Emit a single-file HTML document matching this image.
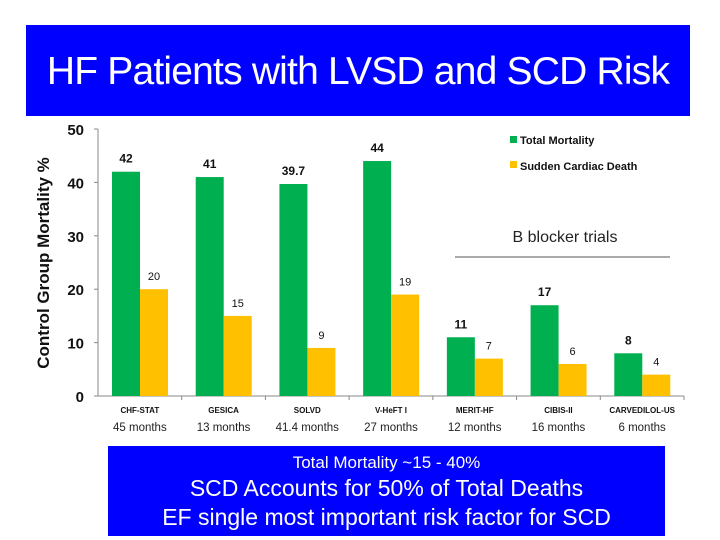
<!DOCTYPE html>
<html><head><meta charset="utf-8"><style>
body{margin:0;width:720px;height:540px;background:#fff;overflow:hidden;font-family:"Liberation Sans",sans-serif}
#title{position:absolute;left:26px;top:25px;width:664px;height:91px;background:#0000ff;color:#fff;font-size:39px;text-align:center;line-height:93px;letter-spacing:-0.8px}
#foot{position:absolute;left:108px;top:446px;width:557px;height:90px;background:#0000ff;color:#fff;text-align:center}
</style></head><body>
<div id="title">HF Patients with LVSD and SCD Risk</div>
<svg id="chart" width="720" height="540" style="position:absolute;left:0;top:0"></svg>
<div id="foot">
<div style="font-size:17px;margin-top:7px">Total Mortality ~15 - 40%</div>
<div style="font-size:23px;margin-top:2px">SCD Accounts for 50% of Total Deaths</div>
<div style="font-size:23px;margin-top:2px">EF single most important risk factor for SCD</div>
</div>
<script>
const categories=["CHF-STAT","GESICA","SOLVD","V-HeFT I","MERIT-HF","CIBIS-II","CARVEDILOL-US"];
const durations=["45 months","13 months","41.4 months","27 months","12 months","16 months","6 months"];
const totalMortality=[42,41,39.7,44,11,17,8];
const suddenDeath=[20,15,9,19,7,6,4];
const yTicks=[0,10,20,30,40,50];
const NS="http://www.w3.org/2000/svg";
const svg=document.getElementById('chart');
const x0=98,x1=684,yBase=396,yTop=129,yMax=50;
const cw=(x1-x0)/categories.length;
const y=v=>yBase-(v/yMax)*(yBase-yTop);
function mk(t,a,txt){const e=document.createElementNS(NS,t);for(const k in a)e.setAttribute(k,a[k]);if(txt!=null)e.textContent=txt;svg.appendChild(e);return e;}
let e=mk('line',{x1:x0,y1:yTop,x2:x0,y2:yBase,stroke:'#888'});


e=mk('line',{x1:x0,y1:yBase,x2:x1,y2:yBase,stroke:'#888'});


yTicks.forEach(t=>{
  mk('line',{x1:x0-4,y1:y(t),x2:x0,y2:y(t),stroke:'#888'});
  e=mk('text',{x:x0-14,y:y(t)+6,'text-anchor':'end','font-size':15,'font-weight':'bold',fill:'#111'},t);
  
  
});
e=mk('text',{x:49,y:263,'text-anchor':'middle','font-size':17,'font-weight':'bold',fill:'#111',transform:'rotate(-90 49 263)'},'Control Group Mortality %');


categories.forEach((c,i)=>{
  const cx=x0+i*cw;
  mk('line',{x1:cx+cw,y1:yBase,x2:cx+cw,y2:yBase+4,stroke:'#888'});
  const gx=cx+14,bw=28;
  e=mk('rect',{x:gx,y:y(totalMortality[i]),width:bw,height:yBase-y(totalMortality[i]),fill:'#00b050'});
  
  
  e=mk('rect',{x:gx+bw,y:y(suddenDeath[i]),width:bw,height:yBase-y(suddenDeath[i]),fill:'#ffc000'});
  
  
  e=mk('text',{x:gx+bw/2,y:y(totalMortality[i])-9,'text-anchor':'middle','font-size':12,'font-weight':'bold',fill:'#111'},totalMortality[i]);
  
  
  e=mk('text',{x:gx+bw*1.5,y:y(suddenDeath[i])-9,'text-anchor':'middle','font-size':11,fill:'#111'},suddenDeath[i]);
  
  
  e=mk('text',{x:cx+cw/2,y:413,'text-anchor':'middle','font-size':8,'font-weight':'bold',fill:'#111'},c);
  
  
  e=mk('text',{x:cx+cw/2,y:431,'text-anchor':'middle','font-size':11.5,fill:'#222'},durations[i]);
  
  
});
e=mk('rect',{x:510,y:136,width:7,height:7,fill:'#00b050'});


e=mk('text',{x:520,y:144,'font-size':11,'font-weight':'bold',fill:'#111'},'Total Mortality');


e=mk('rect',{x:510,y:161,width:7,height:7,fill:'#ffc000'});


e=mk('text',{x:520,y:170,'font-size':11,fill:'#111','font-weight':'bold'},'Sudden Cardiac Death');


e=mk('text',{x:565,y:242,'text-anchor':'middle','font-size':16,fill:'#222'},'B blocker trials');


e=mk('line',{x1:455,y1:257,x2:670,y2:257,stroke:'#555','stroke-width':1});


</script>
</body></html>
